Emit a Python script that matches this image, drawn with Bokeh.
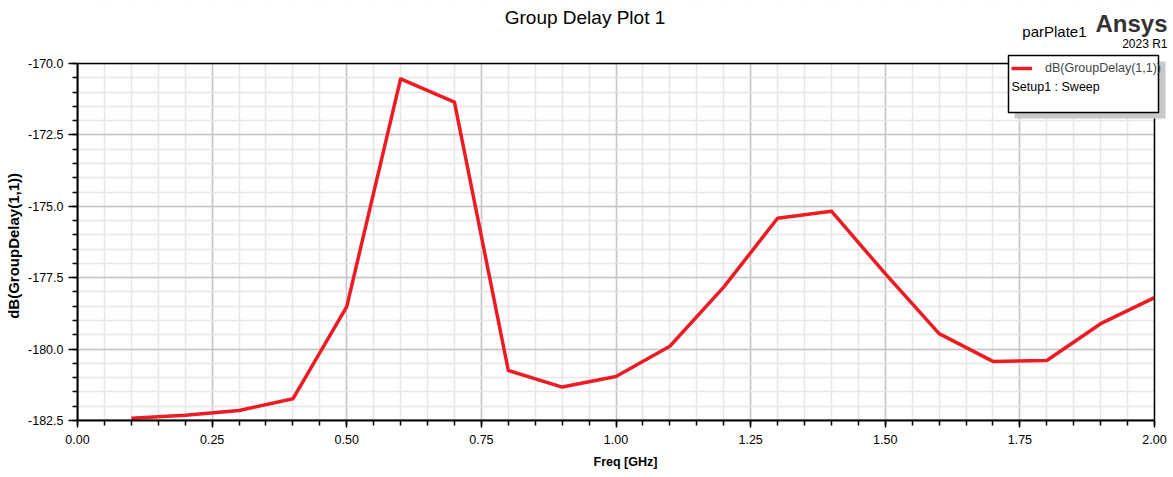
from bokeh.plotting import figure
from bokeh.models import (Range1d, SingleIntervalTicker, PrintfTickFormatter, Label,
                          BoxAnnotation, Legend, LegendItem)
from bokeh.embed import file_html
from bokeh.resources import INLINE

# ---- data ----
freq_ghz = [0.1, 0.2, 0.3, 0.4, 0.5, 0.6, 0.7, 0.8, 0.9, 1.0,
            1.1, 1.2, 1.3, 1.4, 1.5, 1.6, 1.7, 1.8, 1.9, 2.0]
group_delay_db = [-182.42, -182.32, -182.15, -181.74, -178.51, -170.54, -171.35, -180.75,
                  -181.33, -180.96, -179.90, -177.83, -175.42, -175.17, -177.36, -179.46,
                  -180.43, -180.40, -179.11, -178.20]
series_label = "dB(GroupDelay(1,1))"
setup_label = "Setup1 : Sweep"
title_text = "Group Delay Plot 1"
x_label = "Freq [GHz]"
y_label = "dB(GroupDelay(1,1))"

# axis limits of the plotted area
X0, X1 = 0.0, 2.0
Y0, Y1 = -182.5, -170.0

# ---- layout (pixels) ----
W, H = 1173, 477
AL, AR, AT, AB = 77, 1154, 63, 420          # axes box edges
KX = (AR - AL) / (X1 - X0)                  # px per GHz
KY = (AB - AT) / (Y1 - Y0)                  # px per dB
# the frame spans to the top/right canvas edges so that header texts can be drawn
XR_END = X1 + (W - AR) / KX
YR_END = Y1 + AT / KY

RED = "#ed1c24"
SANS = "Liberation Sans"
# trailing no-break spaces re-centre the y label on the axes box (frame is taller)
Y_LABEL_PAD = "\u00a0" * 17

def sx(px):
    return X0 + (px - AL) / KX

def sy(py):
    return Y1 - (py - AT) / KY

p = figure(width=W, height=H, output_backend="svg", toolbar_location=None,
           x_range=Range1d(X0, XR_END), y_range=Range1d(Y0, YR_END),
           min_border_left=AL, min_border_right=0,
           min_border_top=0, min_border_bottom=H - AB)
p.background_fill_color = "white"
p.border_fill_color = "white"
p.outline_line_color = None

# axes
p.xaxis.ticker = SingleIntervalTicker(interval=0.25, num_minor_ticks=5)
p.yaxis.ticker = SingleIntervalTicker(interval=2.5, num_minor_ticks=5)
p.xaxis.formatter = PrintfTickFormatter(format="%.2f")
p.yaxis.formatter = PrintfTickFormatter(format="%.1f")
p.xaxis.bounds = (X0, X1)
p.yaxis.bounds = (Y0, Y1)
for ax in (p.xaxis[0], p.yaxis[0]):
    ax.axis_line_color = "black"
    ax.axis_line_width = 2
    ax.major_tick_line_color = "black"
    ax.minor_tick_line_color = "black"
    ax.major_tick_line_width = 1.5
    ax.minor_tick_line_width = 1.5
    ax.major_tick_in = 0
    ax.minor_tick_in = 0
    ax.major_label_text_font = SANS
    ax.major_label_text_font_size = "12.5px"
    ax.major_label_text_color = "black"
    ax.axis_label_text_color = "black"
    ax.axis_label_text_font = SANS
    ax.axis_label_text_font_style = "bold"

p.xaxis.major_tick_out = 7
p.xaxis.minor_tick_out = 5
p.xaxis.major_label_standoff = 7
p.xaxis.axis_label = x_label
p.xaxis.axis_label_text_font_size = "12.5px"
p.xaxis.axis_label_standoff = 8

p.yaxis.major_tick_out = 9
p.yaxis.minor_tick_out = 5
p.yaxis.major_label_standoff = 5
p.yaxis.axis_label = y_label + Y_LABEL_PAD
p.yaxis.axis_label_text_font_size = "15px"
p.yaxis.axis_label_standoff = 3

# grid
for g in (p.xgrid[0], p.ygrid[0]):
    g.grid_line_color = "#c4c4c4"
    g.grid_line_width = 1.5
    g.minor_grid_line_color = "#e6e6e6"
    g.minor_grid_line_width = 1.5
p.xgrid.bounds = (X0, X1)
p.ygrid.bounds = (Y0, Y1)

# data line
line = p.line(freq_ghz, group_delay_db, line_color=RED, line_width=3.5, line_join="round")

# white margins above / right of the axes box, then the axes box border
p.add_layout(BoxAnnotation(bottom=Y1, fill_color="white", fill_alpha=1.0, line_alpha=0))
p.add_layout(BoxAnnotation(left=X1, fill_color="white", fill_alpha=1.0, line_alpha=0))
p.add_layout(BoxAnnotation(left=X0, right=X1, bottom=Y0, top=Y1, fill_alpha=0,
                           line_color="black", line_width=1.5, line_alpha=1.0))

# legend box with shadow
p.add_layout(BoxAnnotation(left=sx(1014), right=sx(1165), top=sy(61), bottom=sy(118),
                           fill_color="#c8c8c8", fill_alpha=1.0, line_alpha=0))
p.add_layout(BoxAnnotation(left=sx(1008), right=sx(1158), top=sy(55), bottom=sy(112),
                           fill_color="white", fill_alpha=1.0, line_color="black",
                           line_width=1.5, line_alpha=1.0))
legend = Legend(items=[LegendItem(label=series_label, renderers=[line])],
                location=(1011 - AL, AB - 75), orientation="vertical",
                padding=0, margin=0, spacing=0, glyph_width=21, glyph_height=14,
                label_height=14, label_standoff=13,
                label_text_font=SANS, label_text_font_size="12.5px",
                border_line_alpha=0, background_fill_alpha=0)
p.add_layout(legend)
p.add_layout(Label(x=sx(1011), y=sy(86), text=setup_label, text_font=SANS,
                   text_font_size="12.5px", text_baseline="middle", text_align="left",
                   text_color="black"))

# title & branding
p.add_layout(Label(x=sx(584.5), y=sy(17), text=title_text, text_font=SANS,
                   text_font_size="19px", text_baseline="middle", text_align="center",
                   text_color="black"))
p.add_layout(Label(x=sx(1086), y=sy(31), text="parPlate1", text_font=SANS,
                   text_font_size="15px", text_baseline="middle", text_align="right",
                   text_color="black"))
p.add_layout(Label(x=sx(1167), y=sy(23), text="Ansys", text_font=SANS,
                   text_font_style="bold", text_font_size="24px", text_baseline="middle",
                   text_align="right", text_color="#333333"))
p.add_layout(Label(x=sx(1167), y=sy(43), text="2023 R1", text_font=SANS,
                   text_font_size="12px", text_baseline="middle", text_align="right",
                   text_color="black"))

open("out.html", "w").write(file_html(p, INLINE))
